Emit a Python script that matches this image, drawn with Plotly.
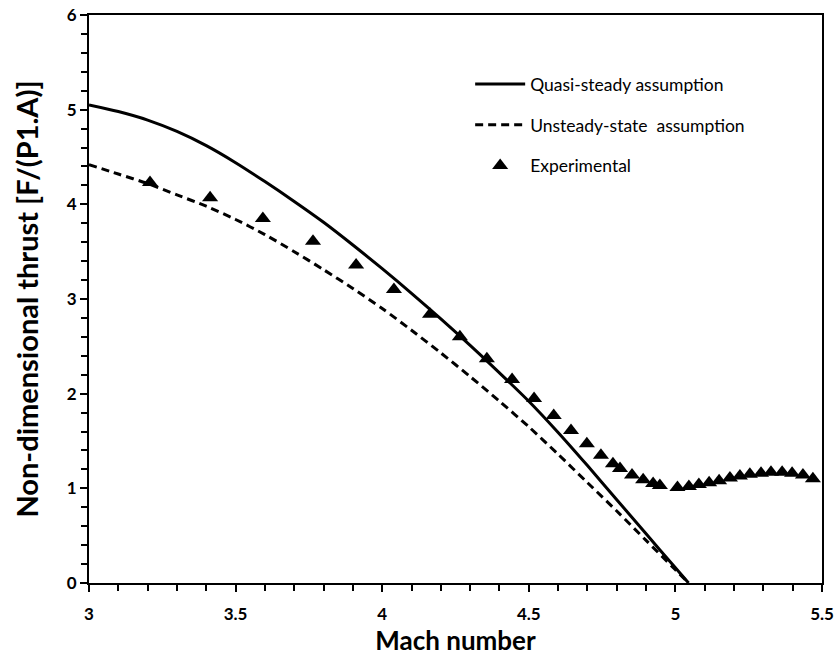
import plotly.graph_objects as go

# Quasi-steady assumption (solid line)
quasi_mach = [3.0, 3.1, 3.2, 3.3, 3.4, 3.5, 3.6, 3.7, 3.8, 3.9, 4.0, 4.1, 4.2,
              4.3, 4.4, 4.5, 4.6, 4.7, 4.8, 4.9, 5.0, 5.045]
quasi_thrust = [5.05, 4.98, 4.89, 4.77, 4.62, 4.44, 4.24, 4.03, 3.81, 3.57, 3.32,
                3.06, 2.79, 2.51, 2.22, 1.92, 1.59, 1.24, 0.88, 0.52, 0.16, 0.0]

# Unsteady-state assumption (dashed line)
unsteady_mach = [3.0, 3.1, 3.2, 3.3, 3.4, 3.5, 3.6, 3.7, 3.8, 3.9, 4.0, 4.1, 4.2,
                 4.3, 4.4, 4.5, 4.6, 4.7, 4.8, 4.9, 5.0, 5.045]
unsteady_thrust = [4.42, 4.32, 4.22, 4.10, 3.98, 3.84, 3.68, 3.50, 3.31, 3.11, 2.90,
                   2.67, 2.43, 2.18, 1.92, 1.65, 1.36, 1.06, 0.76, 0.45, 0.14, 0.0]

# Experimental points (triangles)
exp_mach = [3.208, 3.413, 3.593, 3.764, 3.911, 4.040, 4.163, 4.265, 4.357, 4.443,
            4.518, 4.585, 4.644, 4.698, 4.746, 4.787, 4.811, 4.852, 4.890, 4.924,
            4.947, 5.007, 5.046, 5.080, 5.115, 5.149, 5.186, 5.220, 5.254, 5.292,
            5.326, 5.364, 5.398, 5.435, 5.469]
exp_thrust = [4.23, 4.07, 3.85, 3.61, 3.36, 3.10, 2.84, 2.60, 2.37, 2.15,
              1.95, 1.77, 1.61, 1.47, 1.35, 1.26, 1.21, 1.14, 1.09, 1.05,
              1.03, 1.01, 1.02, 1.04, 1.06, 1.08, 1.11, 1.13, 1.15, 1.16,
              1.17, 1.17, 1.16, 1.14, 1.10]

FONT = "Lato, Liberation Sans, sans-serif"

fig = go.Figure()

fig.add_trace(go.Scatter(
    x=quasi_mach, y=quasi_thrust, mode="lines",
    line=dict(color="black", width=3, shape="spline", smoothing=0.8),
    name="Quasi-steady assumption", legendgroup="a",
))
fig.add_trace(go.Scatter(
    x=unsteady_mach, y=unsteady_thrust, mode="lines",
    line=dict(color="black", width=3, dash="8px,5px", shape="spline", smoothing=0.8),
    name="Unsteady-state  assumption", legendgroup="b",
))
fig.add_trace(go.Scatter(
    x=exp_mach, y=exp_thrust, mode="markers",
    marker=dict(symbol="triangle-up", size=14, color="black"),
    name="Experimental", legendgroup="c",
))

axis_common = dict(
    showgrid=False,
    zeroline=False,
    showline=True,
    linecolor="black",
    linewidth=2,
    mirror=True,
    ticks="outside",
    ticklen=7,
    tickwidth=2,
    tickcolor="black",
    automargin=False,
    ticklabeloverflow="allow",
    tickfont=dict(family=FONT, size=17, color="black", weight="bold"),
)

fig.update_xaxes(
    range=[3, 5.5], tickvals=[3, 3.5, 4, 4.5, 5, 5.5],
    ticktext=["3", "3.5", "4", "4.5", "5", "5.5"],
    ticklabelstandoff=8,
    minor=dict(dtick=0.1, ticks="outside", ticklen=6, tickwidth=1.5, tickcolor="black"),
    title=dict(text="Mach number", standoff=3,
               font=dict(family=FONT, size=26, color="black", weight="bold")),
    **axis_common,
)
fig.update_yaxes(
    range=[0, 6], dtick=1,
    minor=dict(dtick=0.2, ticks="outside", ticklen=6, tickwidth=1.5, tickcolor="black"),
    title=dict(text="Non-dimensional thrust [F/(P1.A)]", standoff=20,
               font=dict(family=FONT, size=29, color="black", weight="bold")),
    **axis_common,
)

fig.update_layout(
    width=838, height=656,
    margin=dict(l=89, r=16, t=15, b=73),
    paper_bgcolor="white",
    plot_bgcolor="white",
    legend=dict(
        x=0.52, y=0.91, xanchor="left", yanchor="top",
        bgcolor="rgba(0,0,0,0)",
        font=dict(family=FONT, size=17.5, color="black"),
        tracegroupgap=15,
        itemwidth=50,
    ),
)

# drop the default page margin so the figure fills the window exactly
fig.write_html(
    "out.html",
    config={"displayModeBar": False},
    post_script="document.body.style.margin='0';document.body.style.overflow='hidden';",
)
